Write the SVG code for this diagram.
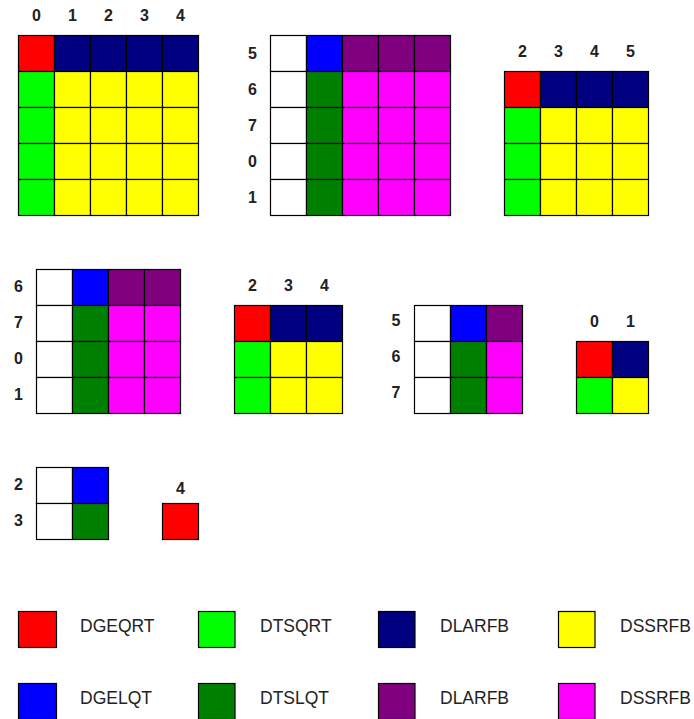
<svg xmlns="http://www.w3.org/2000/svg" width="694" height="719" viewBox="0 0 694 719">
<style>
rect{stroke:#000;stroke-width:1.2}
.r{fill:#ff0000}.n{fill:#000080}.l{fill:#00ff00}.y{fill:#ffff00}
.b{fill:#0000ff}.g{fill:#008000}.p{fill:#800080}.m{fill:#ff00ff}.w{fill:#ffffff}
.lab{font-family:"Liberation Sans",Arial,sans-serif;font-weight:bold;font-size:16px;fill:#222;text-anchor:middle}
.leg{font-family:"Liberation Sans",Arial,sans-serif;font-size:17.5px;fill:#222}
</style>
<rect x="0" y="0" width="694" height="719" style="fill:#fff;stroke:none"/>

<g id="grid1">
<g class="lab"><text x="36.5" y="21">0</text><text x="72.5" y="21">1</text><text x="108.5" y="21">2</text><text x="144.5" y="21">3</text><text x="180.5" y="21">4</text></g>
<g transform="translate(18.5,35.5)">
<rect class="r" x="0" y="0" width="36" height="36"/><rect class="n" x="36" y="0" width="36" height="36"/><rect class="n" x="72" y="0" width="36" height="36"/><rect class="n" x="108" y="0" width="36" height="36"/><rect class="n" x="144" y="0" width="36" height="36"/>
<rect class="l" x="0" y="36" width="36" height="36"/><rect class="y" x="36" y="36" width="36" height="36"/><rect class="y" x="72" y="36" width="36" height="36"/><rect class="y" x="108" y="36" width="36" height="36"/><rect class="y" x="144" y="36" width="36" height="36"/>
<rect class="l" x="0" y="72" width="36" height="36"/><rect class="y" x="36" y="72" width="36" height="36"/><rect class="y" x="72" y="72" width="36" height="36"/><rect class="y" x="108" y="72" width="36" height="36"/><rect class="y" x="144" y="72" width="36" height="36"/>
<rect class="l" x="0" y="108" width="36" height="36"/><rect class="y" x="36" y="108" width="36" height="36"/><rect class="y" x="72" y="108" width="36" height="36"/><rect class="y" x="108" y="108" width="36" height="36"/><rect class="y" x="144" y="108" width="36" height="36"/>
<rect class="l" x="0" y="144" width="36" height="36"/><rect class="y" x="36" y="144" width="36" height="36"/><rect class="y" x="72" y="144" width="36" height="36"/><rect class="y" x="108" y="144" width="36" height="36"/><rect class="y" x="144" y="144" width="36" height="36"/>
</g>
</g>

<g id="grid2">
<g class="lab"><text x="252.5" y="58.5">5</text><text x="252.5" y="94.5">6</text><text x="252.5" y="130.5">7</text><text x="252.5" y="166.5">0</text><text x="252.5" y="202.5">1</text></g>
<g transform="translate(270.5,35.5)">
<rect class="w" x="0" y="0" width="36" height="36"/><rect class="b" x="36" y="0" width="36" height="36"/><rect class="p" x="72" y="0" width="36" height="36"/><rect class="p" x="108" y="0" width="36" height="36"/><rect class="p" x="144" y="0" width="36" height="36"/>
<rect class="w" x="0" y="36" width="36" height="36"/><rect class="g" x="36" y="36" width="36" height="36"/><rect class="m" x="72" y="36" width="36" height="36"/><rect class="m" x="108" y="36" width="36" height="36"/><rect class="m" x="144" y="36" width="36" height="36"/>
<rect class="w" x="0" y="72" width="36" height="36"/><rect class="g" x="36" y="72" width="36" height="36"/><rect class="m" x="72" y="72" width="36" height="36"/><rect class="m" x="108" y="72" width="36" height="36"/><rect class="m" x="144" y="72" width="36" height="36"/>
<rect class="w" x="0" y="108" width="36" height="36"/><rect class="g" x="36" y="108" width="36" height="36"/><rect class="m" x="72" y="108" width="36" height="36"/><rect class="m" x="108" y="108" width="36" height="36"/><rect class="m" x="144" y="108" width="36" height="36"/>
<rect class="w" x="0" y="144" width="36" height="36"/><rect class="g" x="36" y="144" width="36" height="36"/><rect class="m" x="72" y="144" width="36" height="36"/><rect class="m" x="108" y="144" width="36" height="36"/><rect class="m" x="144" y="144" width="36" height="36"/>
</g>
</g>

<g id="grid3">
<g class="lab"><text x="522.5" y="57">2</text><text x="558.5" y="57">3</text><text x="594.5" y="57">4</text><text x="630.5" y="57">5</text></g>
<g transform="translate(504.5,71.5)">
<rect class="r" x="0" y="0" width="36" height="36"/><rect class="n" x="36" y="0" width="36" height="36"/><rect class="n" x="72" y="0" width="36" height="36"/><rect class="n" x="108" y="0" width="36" height="36"/>
<rect class="l" x="0" y="36" width="36" height="36"/><rect class="y" x="36" y="36" width="36" height="36"/><rect class="y" x="72" y="36" width="36" height="36"/><rect class="y" x="108" y="36" width="36" height="36"/>
<rect class="l" x="0" y="72" width="36" height="36"/><rect class="y" x="36" y="72" width="36" height="36"/><rect class="y" x="72" y="72" width="36" height="36"/><rect class="y" x="108" y="72" width="36" height="36"/>
<rect class="l" x="0" y="108" width="36" height="36"/><rect class="y" x="36" y="108" width="36" height="36"/><rect class="y" x="72" y="108" width="36" height="36"/><rect class="y" x="108" y="108" width="36" height="36"/>
</g>
</g>

<g id="grid4">
<g class="lab"><text x="18.5" y="292">6</text><text x="18.5" y="328">7</text><text x="18.5" y="364">0</text><text x="18.5" y="400">1</text></g>
<g transform="translate(36.5,269.5)">
<rect class="w" x="0" y="0" width="36" height="36"/><rect class="b" x="36" y="0" width="36" height="36"/><rect class="p" x="72" y="0" width="36" height="36"/><rect class="p" x="108" y="0" width="36" height="36"/>
<rect class="w" x="0" y="36" width="36" height="36"/><rect class="g" x="36" y="36" width="36" height="36"/><rect class="m" x="72" y="36" width="36" height="36"/><rect class="m" x="108" y="36" width="36" height="36"/>
<rect class="w" x="0" y="72" width="36" height="36"/><rect class="g" x="36" y="72" width="36" height="36"/><rect class="m" x="72" y="72" width="36" height="36"/><rect class="m" x="108" y="72" width="36" height="36"/>
<rect class="w" x="0" y="108" width="36" height="36"/><rect class="g" x="36" y="108" width="36" height="36"/><rect class="m" x="72" y="108" width="36" height="36"/><rect class="m" x="108" y="108" width="36" height="36"/>
</g>
</g>

<g id="grid5">
<g class="lab"><text x="252.5" y="291">2</text><text x="288.5" y="291">3</text><text x="324.5" y="291">4</text></g>
<g transform="translate(234.5,305.5)">
<rect class="r" x="0" y="0" width="36" height="36"/><rect class="n" x="36" y="0" width="36" height="36"/><rect class="n" x="72" y="0" width="36" height="36"/>
<rect class="l" x="0" y="36" width="36" height="36"/><rect class="y" x="36" y="36" width="36" height="36"/><rect class="y" x="72" y="36" width="36" height="36"/>
<rect class="l" x="0" y="72" width="36" height="36"/><rect class="y" x="36" y="72" width="36" height="36"/><rect class="y" x="72" y="72" width="36" height="36"/>
</g>
</g>

<g id="grid6">
<g class="lab"><text x="396" y="326">5</text><text x="396" y="362">6</text><text x="396" y="398">7</text></g>
<g transform="translate(414.5,305.5)">
<rect class="w" x="0" y="0" width="36" height="36"/><rect class="b" x="36" y="0" width="36" height="36"/><rect class="p" x="72" y="0" width="36" height="36"/>
<rect class="w" x="0" y="36" width="36" height="36"/><rect class="g" x="36" y="36" width="36" height="36"/><rect class="m" x="72" y="36" width="36" height="36"/>
<rect class="w" x="0" y="72" width="36" height="36"/><rect class="g" x="36" y="72" width="36" height="36"/><rect class="m" x="72" y="72" width="36" height="36"/>
</g>
</g>

<g id="grid7">
<g class="lab"><text x="594.5" y="327">0</text><text x="630.5" y="327">1</text></g>
<g transform="translate(576.5,341.5)">
<rect class="r" x="0" y="0" width="36" height="36"/><rect class="n" x="36" y="0" width="36" height="36"/>
<rect class="l" x="0" y="36" width="36" height="36"/><rect class="y" x="36" y="36" width="36" height="36"/>
</g>
</g>

<g id="grid8">
<g class="lab"><text x="18.5" y="490">2</text><text x="18.5" y="526">3</text></g>
<g transform="translate(36.5,467.5)">
<rect class="w" x="0" y="0" width="36" height="36"/><rect class="b" x="36" y="0" width="36" height="36"/>
<rect class="w" x="0" y="36" width="36" height="36"/><rect class="g" x="36" y="36" width="36" height="36"/>
</g>
</g>

<g id="grid9">
<text class="lab" x="180.5" y="493.5">4</text>
<rect class="r" x="162.5" y="503.5" width="36" height="36"/>
</g>

<g id="legend">
<rect class="r" x="18.5" y="611.5" width="38" height="36"/><text class="leg" x="80" y="632">DGEQRT</text>
<rect class="l" x="198.5" y="611.5" width="36.5" height="36"/><text class="leg" x="260" y="632">DTSQRT</text>
<rect class="n" x="378.5" y="611.5" width="36.5" height="36"/><text class="leg" x="440" y="632">DLARFB</text>
<rect class="y" x="558.5" y="611.5" width="36.5" height="36"/><text class="leg" x="620" y="632">DSSRFB</text>
<rect class="b" x="18.5" y="683.5" width="38" height="36"/><text class="leg" x="80" y="704">DGELQT</text>
<rect class="g" x="198.5" y="683.5" width="36.5" height="36"/><text class="leg" x="260" y="704">DTSLQT</text>
<rect class="p" x="378.5" y="683.5" width="36.5" height="36"/><text class="leg" x="440" y="704">DLARFB</text>
<rect class="m" x="558.5" y="683.5" width="36.5" height="36"/><text class="leg" x="620" y="704">DSSRFB</text>
</g>
</svg>
